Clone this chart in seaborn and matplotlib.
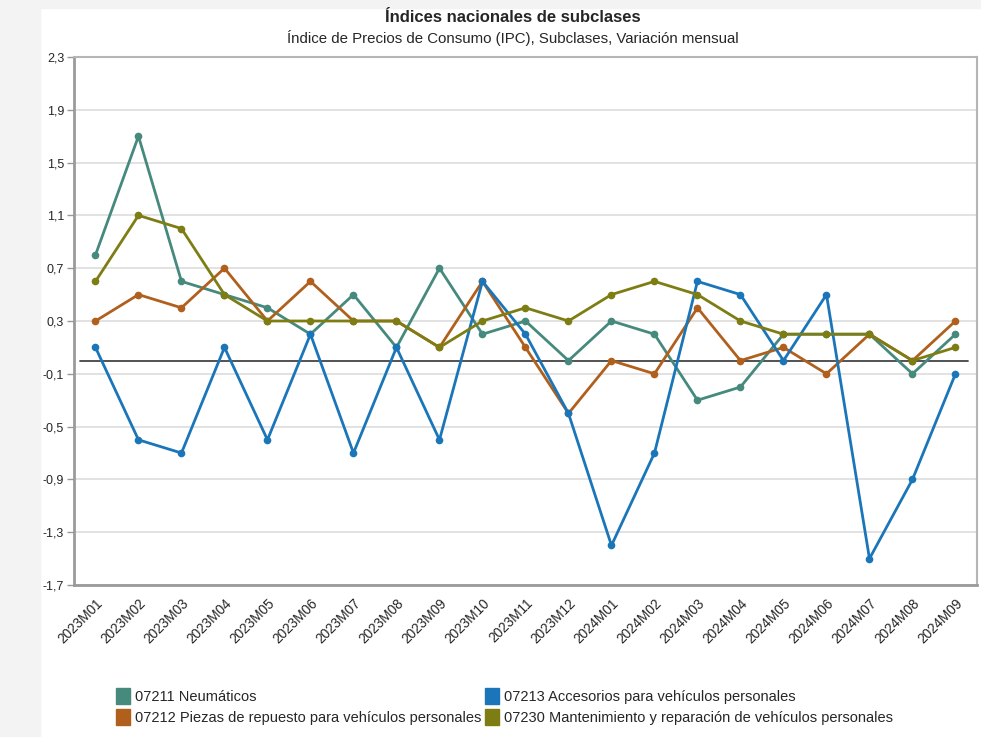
import numpy as np
import pandas as pd
import seaborn as sns
import matplotlib.pyplot as plt
from matplotlib.patches import Patch, Rectangle

# periodos mensuales
periodos = ['2023M01', '2023M02', '2023M03', '2023M04', '2023M05', '2023M06', '2023M07',
            '2023M08', '2023M09', '2023M10', '2023M11', '2023M12', '2024M01', '2024M02',
            '2024M03', '2024M04', '2024M05', '2024M06', '2024M07', '2024M08', '2024M09']

# variacion mensual por subclase
neumaticos = [0.8, 1.7, 0.6, 0.5, 0.4, 0.2, 0.5, 0.1, 0.7, 0.2, 0.3, 0.0, 0.3, 0.2,
              -0.3, -0.2, 0.2, 0.2, 0.2, -0.1, 0.2]
piezas = [0.3, 0.5, 0.4, 0.7, 0.3, 0.6, 0.3, 0.3, 0.1, 0.6, 0.1, -0.4, 0.0, -0.1,
          0.4, 0.0, 0.1, -0.1, 0.2, 0.0, 0.3]
accesorios = [0.1, -0.6, -0.7, 0.1, -0.6, 0.2, -0.7, 0.1, -0.6, 0.6, 0.2, -0.4, -1.4, -0.7,
              0.6, 0.5, 0.0, 0.5, -1.5, -0.9, -0.1]
mantenimiento = [0.6, 1.1, 1.0, 0.5, 0.3, 0.3, 0.3, 0.3, 0.1, 0.3, 0.4, 0.3, 0.5, 0.6,
                 0.5, 0.3, 0.2, 0.2, 0.2, 0.0, 0.1]

series = {
    '07211 Neumáticos': neumaticos,
    '07212 Piezas de repuesto para vehículos personales': piezas,
    '07213 Accesorios para vehículos personales': accesorios,
    '07230 Mantenimiento y reparación de vehículos personales': mantenimiento,
}
colores = ['#46897d', '#b0601c', '#1a76b9', '#7d7d14']
palette = dict(zip(series.keys(), colores))

y_ticks = [2.3, 1.9, 1.5, 1.1, 0.7, 0.3, -0.1, -0.5, -0.9, -1.3, -1.7]

# tabla larga para seaborn
rows = []
for nombre, valores in series.items():
    for i, v in enumerate(valores):
        rows.append({'pos': i, 'valor': v, 'serie': nombre})
df = pd.DataFrame(rows)

sns.set_style('white')
plt.rcParams['font.family'] = ['Liberation Sans', 'DejaVu Sans']

fig = plt.figure(figsize=(9.81, 7.37), dpi=100)
# fondo gris de la pagina
fig.patches.append(Rectangle((0, 0), 40 / 981, 1, transform=fig.transFigure,
                             color='#f3f3f3', zorder=-10))
fig.patches.append(Rectangle((0, 1 - 8 / 737), 1, 8 / 737, transform=fig.transFigure,
                             color='#f3f3f3', zorder=-10))

ax = fig.add_axes([0.0754, 0.2062, 0.9205, 0.7165])

sns.lineplot(data=df, x='pos', y='valor', hue='serie', palette=palette,
             marker='o', markersize=5.5, markeredgewidth=0, linewidth=2,
             legend=False, ax=ax, zorder=3)

ax.axhline(0, xmin=0.007, xmax=0.99, color='#444444', linewidth=1.3, zorder=2)

ax.set_xlim(-0.5, len(periodos) - 0.5)
ax.set_ylim(-1.7, 2.3)
ax.set_yticks(y_ticks)
ax.set_yticklabels([f'{t:.1f}'.replace('.', ',') for t in y_ticks], fontsize=9)
ax.yaxis.grid(True, color='#dddddd', linewidth=1.2)
ax.set_axisbelow(True)

ax.set_xticks(range(len(periodos)))
ax.set_xticklabels(periodos, rotation=45, ha='right', rotation_mode='anchor', fontsize=9.8)
ax.set_xticks(np.arange(-0.5, len(periodos)), minor=True)
ax.tick_params(axis='x', which='major', length=0, pad=8)
ax.tick_params(axis='x', which='minor', length=5, color='#999999', width=1)
ax.tick_params(axis='y', length=5, color='#999999', width=1, direction='out', left=True, pad=2)
ax.set_xlabel('')
ax.set_ylabel('')

for side in ['left', 'bottom']:
    ax.spines[side].set_color('#9a9a9a')
    ax.spines[side].set_linewidth(2)
for side in ['top', 'right']:
    ax.spines[side].set_color('#b5b5b5')
    ax.spines[side].set_linewidth(1.5)

fig.text(0.523, 0.976, 'Índices nacionales de subclases', ha='center', va='center',
         fontsize=12, fontweight='bold')
fig.text(0.523, 0.949, 'Índice de Precios de Consumo (IPC), Subclases, Variación mensual',
         ha='center', va='center', fontsize=10.8)

handles = [Patch(color=palette[n], label=n) for n in series.keys()]
fig.legend(handles=handles, ncol=2, loc='upper left', bbox_to_anchor=(0.118, 0.066),
           frameon=False, fontsize=10.5, handlelength=1.0, handleheight=1.3,
           handletextpad=0.35, columnspacing=0.2, labelspacing=0.35, borderaxespad=0,
           borderpad=0)

fig.savefig('out.png', dpi=100, facecolor='white')
